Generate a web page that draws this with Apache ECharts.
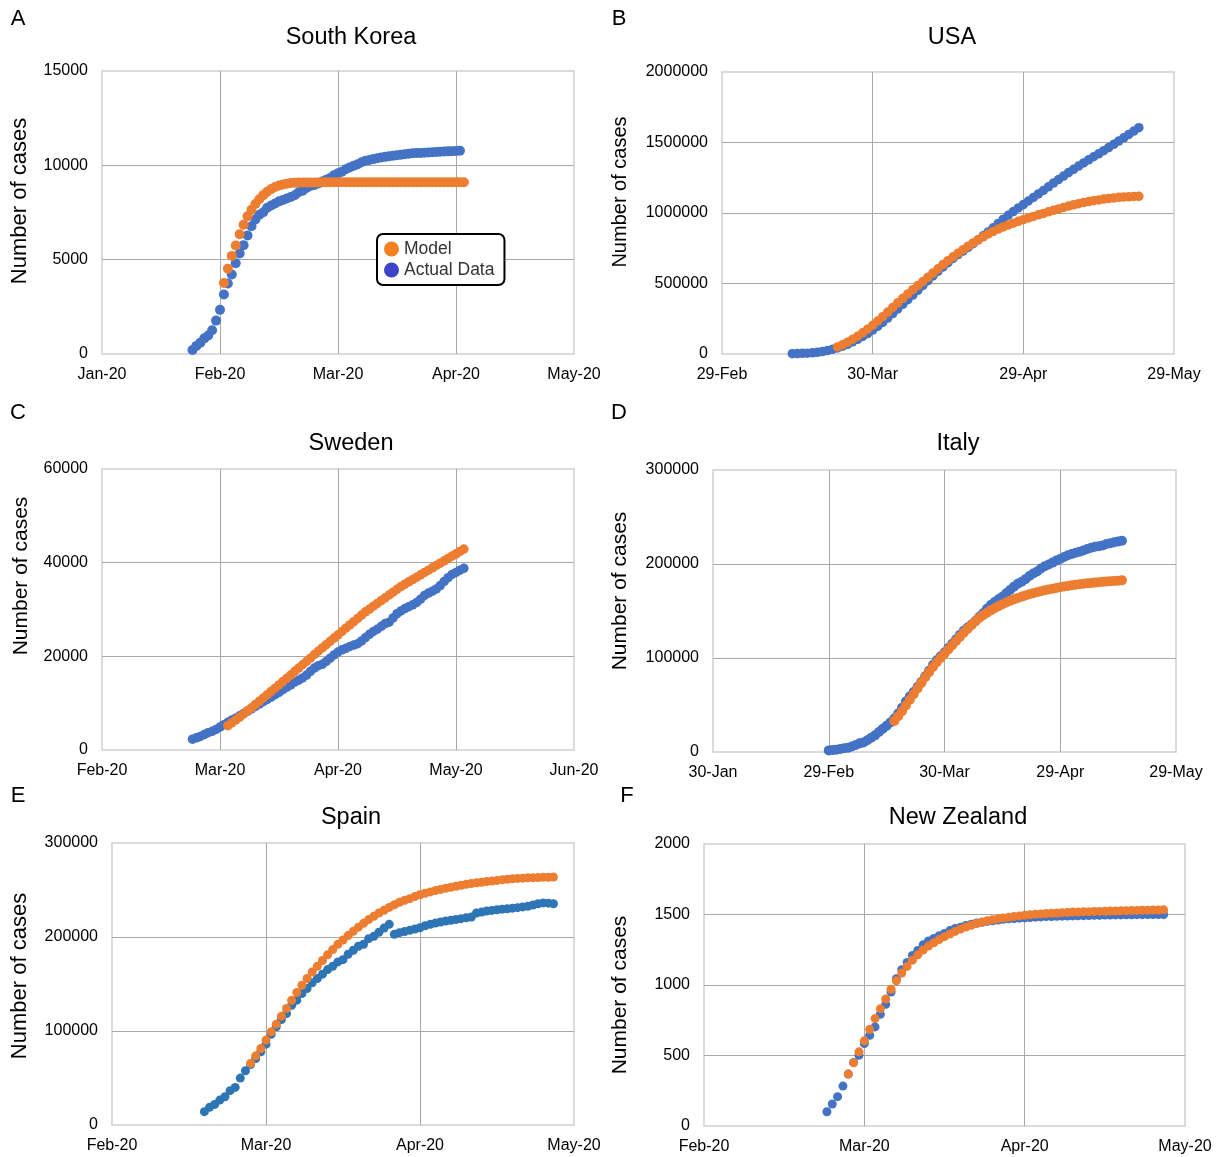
<!DOCTYPE html>
<html>
<head>
<meta charset="utf-8">
<title>Model vs actual cases</title>
<script src="https://cdn.jsdelivr.net/npm/echarts@6/dist/echarts.min.js"></script>
<style>
  html, body { margin: 0; background: #fff; }
  #chart { width: 1221px; height: 1157px; }
</style>
</head>
<body>
<div id="chart"></div>
<script>
// x values are days counted from the first tick of each panel, one point per day

// A - South Korea
const koreaTicks = ["Jan-20", "Feb-20", "Mar-20", "Apr-20", "May-20"];
const koreaActualStart = 23;
const koreaActual = [210, 430, 600, 830, 980, 1260, 1770, 2340, 3150, 3740, 4210, 4810, 5330, 5770, 6280,
  6770, 7130, 7380, 7510, 7750, 7870, 7980, 8090, 8160, 8240, 8320, 8410, 8570, 8650, 8800,
  8900, 8960, 9040, 9140, 9240, 9330, 9480, 9580, 9660, 9790, 9890, 9980, 10060, 10160, 10240,
  10280, 10330, 10380, 10420, 10450, 10480, 10510, 10540, 10560, 10590, 10610, 10640, 10650, 10660, 10670,
  10680, 10690, 10710, 10720, 10730, 10740, 10750, 10760, 10770];
const koreaModelStart = 31;
const koreaModel = [3760, 4520, 5200, 5750, 6350, 6850, 7300, 7650, 7950, 8200, 8420, 8600, 8740, 8850, 8930,
  8990, 9030, 9060, 9075, 9085, 9090, 9092, 9094, 9095, 9096, 9097, 9098, 9099, 9100, 9100,
  9100, 9100, 9100, 9100, 9100, 9100, 9100, 9100, 9100, 9100, 9100, 9100, 9100, 9100, 9100,
  9100, 9100, 9100, 9100, 9100, 9100, 9100, 9100, 9100, 9100, 9100, 9100, 9100, 9100, 9100,
  9100, 9100];

// B - USA
const usaTicks = ["29-Feb", "30-Mar", "29-Apr", "29-May"];
const usaActualStart = 14;
const usaActual = [2500, 3200, 4500, 6000, 8500, 12000, 17000, 24000, 33000, 43000,
  55000, 69000, 86000, 104000, 124000, 145000, 170000, 196000, 224000, 255000,
  287000, 320000, 352000, 385000, 418000, 452000, 486000, 520000, 554000, 586000,
  617000, 648000, 678000, 705000, 730000, 756000, 782000, 810000, 838000, 866000,
  895000, 926000, 956000, 984000, 1010000, 1036000, 1060000, 1085000, 1110000, 1135000,
  1160000, 1186000, 1212000, 1237000, 1262000, 1287000, 1310000, 1333000, 1355000, 1377000,
  1399000, 1420000, 1442000, 1464000, 1487000, 1510000, 1533000, 1557000, 1581000, 1605000];
const usaModelStart = 23;
const usaModel = [50000, 66000, 84000, 104000, 126000, 150000, 176000, 204000, 234000, 265000,
  297000, 330000, 363000, 395000, 426000, 456000, 485000, 514000, 544000, 574000,
  604000, 634000, 662000, 689000, 715000, 740000, 765000, 788000, 810000, 831000,
  851000, 869000, 886000, 901000, 915000, 928000, 941000, 953000, 965000, 976000,
  987000, 997000, 1008000, 1019000, 1029000, 1039000, 1049000, 1058000, 1066000, 1074000,
  1081000, 1087000, 1093000, 1099000, 1103000, 1107000, 1111000, 1113000, 1115000, 1117000,
  1118000];

// C - Sweden
const swedenTicks = ["Feb-20", "Mar-20", "Apr-20", "May-20", "Jun-20"];
const swedenActualStart = 23;
const swedenActual = [2300, 2600, 2900, 3300, 3700, 4000, 4400, 4900, 5400, 5900,
  6400, 6800, 7300, 7800, 8300, 8800, 9300, 9800, 10300, 10800,
  11300, 11800, 12300, 12900, 13400, 13900, 14500, 14900, 15400, 16000,
  16800, 17500, 18000, 18300, 18900, 19600, 20300, 20900, 21400, 21700,
  22100, 22400, 22700, 23300, 24000, 24700, 25300, 25800, 26400, 27000,
  27300, 28200, 29100, 29700, 30200, 30600, 31000, 31500, 32200, 33000,
  33500, 33900, 34400, 35100, 36000, 36800, 37500, 37900, 38400, 38800];
const swedenModelStart = 32;
const swedenModel = [5200, 5800, 6400, 7000, 7700, 8400, 9000, 9700, 10400, 11100,
  11800, 12500, 13200, 13900, 14600, 15300, 16000, 16800, 17500, 18200,
  18900, 19600, 20400, 21100, 21800, 22500, 23200, 23900, 24600, 25300,
  26000, 26700, 27400, 28100, 28800, 29500, 30100, 30700, 31300, 31900,
  32500, 33100, 33700, 34300, 34900, 35400, 35900, 36400, 36900, 37400,
  37900, 38400, 38900, 39400, 39900, 40400, 40900, 41400, 41900, 42400,
  42900];

// D - Italy
const italyTicks = ["30-Jan", "29-Feb", "30-Mar", "29-Apr", "29-May"];
const italyActualStart = 30;
const italyActual = [1700, 2000, 2500, 3100, 3900, 4600, 5900, 7400, 9200, 10100,
  12500, 15100, 17700, 21200, 24700, 27900, 31500, 35700, 41000, 47000,
  53600, 59100, 63900, 69200, 74400, 80500, 86500, 92500, 97700, 101700,
  105800, 110600, 115200, 119800, 124600, 128900, 132500, 135600, 139400, 143600,
  147600, 152300, 156400, 159500, 162500, 165200, 168900, 172400, 175900, 178900,
  181200, 183900, 187300, 189900, 192000, 195300, 197700, 199400, 201500, 203600,
  205400, 207400, 209300, 210700, 211900, 213000, 214400, 215900, 217200, 218300,
  219000, 219800, 221200, 222100, 223100, 223900, 224800];
const italyModelStart = 47;
const italyModel = [33000, 38000, 43500, 49500, 55500, 61500, 67500, 73500, 79500, 85000,
  90500, 95500, 100000, 104500, 109000, 113500, 118000, 122500, 127000, 131000,
  135000, 139000, 142500, 145500, 148200, 150700, 153000, 155200, 157200, 159100,
  160800, 162400, 163900, 165300, 166600, 167800, 168900, 170000, 171000, 172000,
  172900, 173700, 174500, 175300, 176000, 176700, 177300, 177900, 178400, 178900,
  179400, 179800, 180200, 180600, 181000, 181300, 181700, 182000, 182300, 182600];

// E - Spain
const spainTicks = ["Feb-20", "Mar-20", "Apr-20", "May-20"];
const spainActualStart = 18;
const spainActual = [14200, 18800, 21900, 26500, 30100, 36500, 40000, 49900, 57700, 64400,
  70800, 77900, 86000, 96600, 104400, 112200, 118600, 127400, 132800, 139800,
  145100, 151200, 155800, 160500, 165300, 168900, 173500, 175900, 181600, 185900,
  190100, 192200, 198200, 200700, 205000, 209500, 213500, 202800, 204600, 205800,
  207100, 208500, 209900, 212000, 213500, 214800, 215900, 217000, 217700, 218600,
  219500, 220400, 221300, 225500, 226500, 227600, 228300, 229000, 229600, 230100,
  230700, 231200, 232000, 232600, 234000, 235400, 236300, 236000, 235400];
const spainModelStart = 27;
const spainModel = [65500, 73600, 81400, 90300, 99100, 107300, 115800, 123900, 132700, 141000,
  148700, 155800, 162800, 168900, 175000, 181000, 186600, 192200, 196800, 201500,
  206000, 210500, 214500, 218500, 222000, 225500, 228500, 231500, 234300, 237000,
  239000, 240800, 243000, 245000, 246500, 248000, 249400, 250600, 251800, 252900,
  254000, 255000, 256000, 256900, 257600, 258300, 259000, 259500, 260200, 260800,
  261400, 261900, 262300, 262600, 262900, 263100, 263300, 263500, 263600, 263700];

// F - New Zealand
const nzTicks = ["Feb-20", "Mar-20", "Apr-20", "May-20"];
const nzActualStart = 23;
const nzActual = [101, 156, 208, 283, 368, 451, 502, 585, 644, 703,
  792, 863, 950, 1045, 1108, 1160, 1210, 1245, 1285, 1312,
  1330, 1349, 1366, 1386, 1401, 1409, 1422, 1431, 1440, 1445,
  1451, 1456, 1461, 1466, 1469, 1472, 1474, 1476, 1479, 1481,
  1483, 1485, 1486, 1487, 1488, 1489, 1490, 1491, 1492, 1493,
  1494, 1495, 1496, 1496, 1497, 1497, 1498, 1498, 1499, 1499,
  1500, 1500, 1500, 1500];
const nzModelStart = 27;
const nzModel = [368, 448, 526, 604, 684, 762, 832, 900, 970, 1030,
  1085, 1132, 1176, 1214, 1248, 1276, 1300, 1322, 1343, 1362,
  1380, 1397, 1411, 1424, 1436, 1446, 1455, 1463, 1469, 1475,
  1480, 1485, 1490, 1494, 1498, 1501, 1504, 1507, 1509, 1511,
  1513, 1515, 1517, 1518, 1519, 1520, 1521, 1522, 1523, 1524,
  1525, 1526, 1527, 1528, 1529, 1530, 1531, 1532, 1532, 1533];

const FONT = '"Liberation Sans", Arial, sans-serif';
const ORANGE = "#ED7D31";
const BLUE = "#4472C4";

function toPoints(start, values) {
  return values.map((v, i) => [start + i, v]);
}

// layout of the six panels
const panels = [
  { letter: "A", letterAt: [18, 19], title: "South Korea", titleAt: [351, 38], nameAt: [20, 201], nameSize: 22,
    grid: { left: 102, top: 71, width: 472, height: 283 }, ticks: koreaTicks, yMax: 15000, yStep: 5000,
    actual: toPoints(koreaActualStart, koreaActual), model: toPoints(koreaModelStart, koreaModel), size: 10, blue: BLUE },
  { letter: "B", letterAt: [619, 19], title: "USA", titleAt: [952, 38], nameAt: [620, 192], nameSize: 20,
    grid: { left: 722, top: 72, width: 452, height: 282 }, ticks: usaTicks, yMax: 2000000, yStep: 500000,
    actual: toPoints(usaActualStart, usaActual), model: toPoints(usaModelStart, usaModel), size: 9.5, blue: BLUE },
  { letter: "C", letterAt: [18, 413], title: "Sweden", titleAt: [351, 444], nameAt: [21, 576], nameSize: 21,
    grid: { left: 102, top: 469, width: 472, height: 281 }, ticks: swedenTicks, yMax: 60000, yStep: 20000,
    actual: toPoints(swedenActualStart, swedenActual), model: toPoints(swedenModelStart, swedenModel), size: 9.5, blue: BLUE },
  { letter: "D", letterAt: [619, 413], title: "Italy", titleAt: [958, 444], nameAt: [620, 591], nameSize: 21,
    grid: { left: 713, top: 470, width: 463, height: 282 }, ticks: italyTicks, yMax: 300000, yStep: 100000,
    actual: toPoints(italyActualStart, italyActual), model: toPoints(italyModelStart, italyModel), size: 10, blue: BLUE },
  { letter: "E", letterAt: [18, 796], title: "Spain", titleAt: [351, 818], nameAt: [20, 976], nameSize: 22,
    grid: { left: 112, top: 843, width: 462, height: 282 }, ticks: spainTicks, yMax: 300000, yStep: 100000,
    actual: toPoints(spainActualStart, spainActual), model: toPoints(spainModelStart, spainModel), size: 9, blue: "#2E75B6" },
  { letter: "F", letterAt: [627, 796], title: "New Zealand", titleAt: [958, 818], nameAt: [620, 995], nameSize: 21,
    grid: { left: 704, top: 844, width: 481, height: 282 }, ticks: nzTicks, yMax: 2000, yStep: 500,
    actual: toPoints(nzActualStart, nzActual), model: toPoints(nzModelStart, nzModel), size: 9, blue: BLUE }
];

function text(x, y, str, size, extra) {
  return Object.assign({
    type: "text", x: x, y: y, silent: true,
    style: { text: str, fontSize: size, fontFamily: FONT, fill: "#000",
      align: "center", verticalAlign: "middle", textAlign: "center", textVerticalAlign: "middle" }
  }, extra || {});
}

const grids = [], xAxes = [], yAxes = [], series = [], graphics = [];

panels.forEach((p, i) => {
  grids.push(Object.assign({ show: true, borderColor: "#D0D0D0", borderWidth: 1.5, containLabel: false }, p.grid));
  xAxes.push({
    type: "value", gridIndex: i, min: 0, max: (p.ticks.length - 1) * 30, interval: 30,
    axisLine: { show: false }, axisTick: { show: false },
    splitLine: { show: true, showMinLine: false, showMaxLine: false, lineStyle: { color: "#A8A8A8", width: 1 } },
    axisLabel: {
      margin: 13, fontSize: 16, fontFamily: FONT, color: "#000", showMinLabel: true, showMaxLabel: true,
      formatter: (v) => p.ticks[Math.round(v / 30)] || ""
    }
  });
  yAxes.push({
    type: "value", gridIndex: i, min: 0, max: p.yMax, interval: p.yStep,
    axisLine: { show: false }, axisTick: { show: false },
    splitLine: { show: true, showMinLine: false, showMaxLine: false, lineStyle: { color: "#A8A8A8", width: 1 } },
    axisLabel: { margin: 14, fontSize: 16, fontFamily: FONT, color: "#000", formatter: (v) => String(v) }
  });
  series.push({
    name: "Actual Data", type: "scatter", xAxisIndex: i, yAxisIndex: i, symbolSize: p.size,
    itemStyle: { color: p.blue, opacity: 1 }, data: p.actual, z: 2
  });
  series.push({
    name: "Model", type: "scatter", xAxisIndex: i, yAxisIndex: i, symbolSize: p.size,
    itemStyle: { color: ORANGE, opacity: 1 }, data: p.model, z: 3
  });
  graphics.push(text(p.letterAt[0], p.letterAt[1], p.letter, 22));
  graphics.push(text(p.titleAt[0], p.titleAt[1], p.title, 23.5));
  graphics.push(text(p.nameAt[0], p.nameAt[1], "Number of cases", p.nameSize, { rotation: Math.PI / 2 }));
});

const chart = echarts.init(document.getElementById("chart"), null, { renderer: "canvas" });
chart.setOption({
  animation: false,
  backgroundColor: "#fff",
  grid: grids,
  xAxis: xAxes,
  yAxis: yAxes,
  legend: {
    left: 377, top: 234, orient: "vertical", icon: "circle",
    itemWidth: 15, itemHeight: 15, itemGap: 3,
    padding: [6, 10, 6, 7],
    borderColor: "#000", borderWidth: 2, borderRadius: 6, backgroundColor: "#fff",
    textStyle: { fontSize: 17.5, fontFamily: FONT, color: "#333" },
    data: [
      { name: "Model", itemStyle: { color: "#F47F20" } },
      { name: "Actual Data", itemStyle: { color: "#3D44C8" } }
    ]
  },
  graphic: graphics,
  series: series
});
</script>
</body>
</html>
